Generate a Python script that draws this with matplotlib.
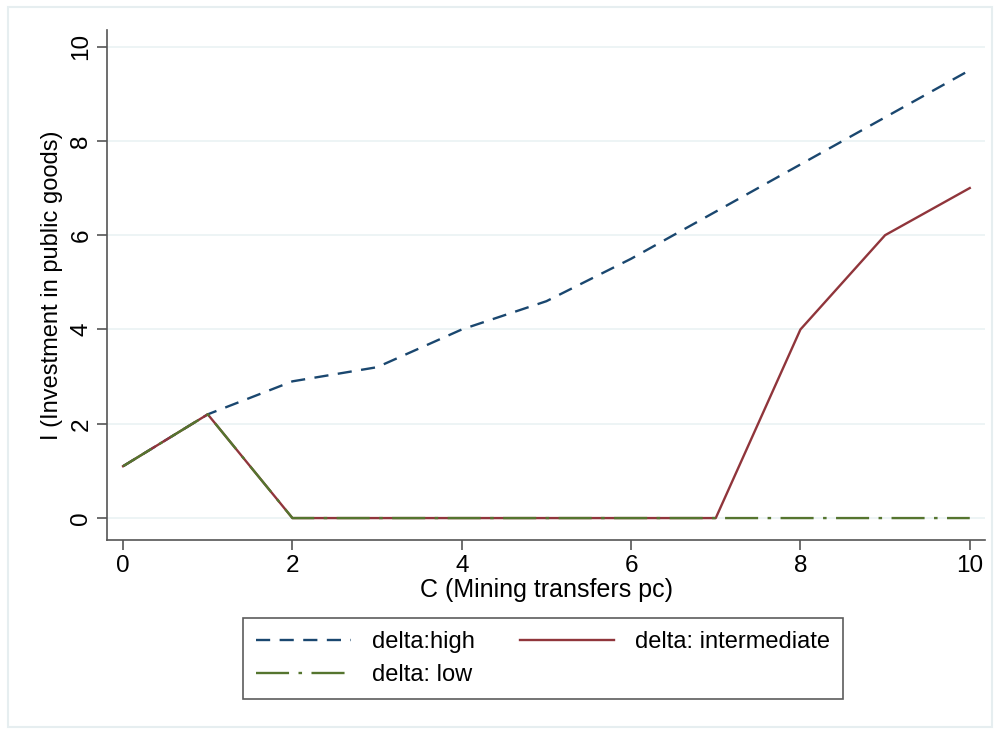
import numpy as np
import matplotlib.pyplot as plt
from matplotlib.patches import Rectangle

plt.rcParams['font.family'] = ['Liberation Sans', 'DejaVu Sans']

C = [0, 1, 2, 3, 4, 5, 6, 7, 8, 9, 10]
I_HIGH = [1.1, 2.2, 2.9, 3.2, 4.0, 4.6, 5.5, 6.5, 7.5, 8.5, 9.5]
I_INTER = [1.1, 2.2, 0, 0, 0, 0, 0, 0, 4.0, 6.0, 7.0]
I_LOW = [1.1, 2.2, 0, 0, 0, 0, 0, 0, 0, 0, 0]

fig = plt.figure(figsize=(10, 7.34), dpi=100)
fig.patches.append(Rectangle((0.008, 0.01), 0.984, 0.98, transform=fig.transFigure,
                             fill=False, edgecolor='#e6eef0', linewidth=1.5))
ax = fig.add_axes([0.107, 0.264, 0.878, 0.695])

high, = ax.plot(C, I_HIGH, color='#1a476f', lw=1.7, dashes=(6, 4), label='delta:high')
inter, = ax.plot(C, I_INTER, color='#90353b', lw=1.7, label='delta: intermediate')
low, = ax.plot(C, I_LOW, color='#55752f', lw=1.7, dashes=(14, 4, 1.5, 4), label='delta: low')

ax.set_xlim(-0.19, 10.18)
ax.set_ylim(-0.47, 10.35)
ax.set_xticks([0, 2, 4, 6, 8, 10])
ax.set_yticks([0, 2, 4, 6, 8, 10])
ax.grid(axis='y', color='#eaf2f3', lw=1.2)
ax.set_axisbelow(True)
for s in ['top', 'right']:
    ax.spines[s].set_visible(False)
for s in ['left', 'bottom']:
    ax.spines[s].set_color('#555555')
    ax.spines[s].set_linewidth(1.2)
ax.tick_params(colors='#555555', labelcolor='black', labelsize=17.5, length=7, width=1.2)
for lab in ax.get_yticklabels():
    lab.set_rotation(90)
    lab.set_va('center')
ax.set_xlabel('C (Mining transfers pc)', fontsize=18, labelpad=1)
ax.set_ylabel('I (Investment in public goods)', fontsize=17, labelpad=5)

leg = ax.legend([high, low, inter], ['delta:high', 'delta: low', 'delta: intermediate'],
                ncol=2, loc='upper center', bbox_to_anchor=(0.497, -0.13),
                fontsize=17, frameon=True, fancybox=False, handlelength=4.0,
                columnspacing=1.9, borderpad=0.55, labelspacing=0.45, handletextpad=0.9)
leg.get_frame().set_edgecolor('#333333')
leg.get_frame().set_linewidth(1.2)

fig.savefig('out.png')
